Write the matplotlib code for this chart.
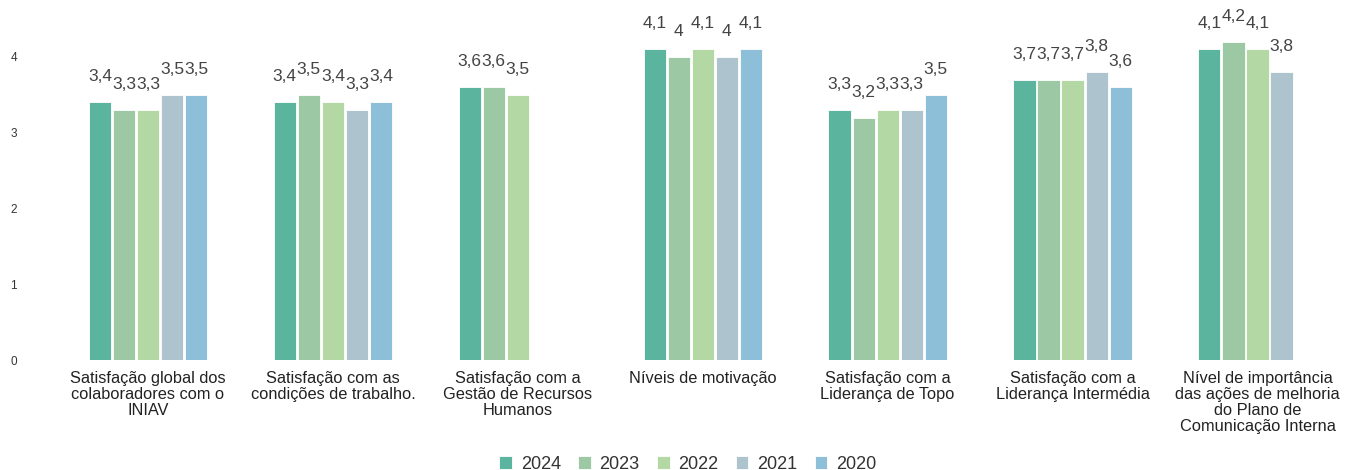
import matplotlib
matplotlib.use("Agg")
import matplotlib.pyplot as plt
import numpy as np

plt.rcParams['font.family'] = ['Liberation Sans', 'DejaVu Sans']

categories = [
    "Satisfação global dos\ncolaboradores com o\nINIAV",
    "Satisfação com as\ncondições de trabalho.",
    "Satisfação com a\nGestão de Recursos\nHumanos",
    "Níveis de motivação",
    "Satisfação com a\nLiderança de Topo",
    "Satisfação com a\nLiderança Intermédia",
    "Nível de importância\ndas ações de melhoria\ndo Plano de\nComunicação Interna",
]
years = ["2024", "2023", "2022", "2021", "2020"]
v2024 = [3.4, 3.4, 3.6, 4.1, 3.3, 3.7, 4.1]
v2023 = [3.3, 3.5, 3.6, 4.0, 3.2, 3.7, 4.2]
v2022 = [3.3, 3.4, 3.5, 4.1, 3.3, 3.7, 4.1]
v2021 = [3.5, 3.3, None, 4.0, 3.3, 3.8, 3.8]
v2020 = [3.5, 3.4, None, 4.1, 3.5, 3.6, None]
series = [v2024, v2023, v2022, v2021, v2020]
colors = ["#5ab49e", "#9cc9a3", "#b4d8a3", "#adc4cf", "#8dbfd9"]

fig = plt.figure(figsize=(13.54, 4.70), dpi=100)
ax = fig.add_axes([0.041, 0.234, 0.956, 0.7415])

x = np.arange(len(categories))
step = 0.13
width = 0.12
for k, (vals, col, yr) in enumerate(zip(series, colors, years)):
    off = (k - 2) * step
    xs = [xi + off for xi, v in zip(x, vals) if v is not None]
    hs = [v for v in vals if v is not None]
    ax.bar(xs, hs, width=width, color=col, edgecolor='white', linewidth=0.6, label=yr)
    for xi, h in zip(xs, hs):
        ax.annotate(f"{h:g}".replace('.', ','), (xi, h), xytext=(0, 13),
                    textcoords='offset points', ha='center', va='bottom',
                    fontsize=12.5, color='#444444')

ax.set_xlim(-0.5, len(categories) - 0.5)
ax.set_ylim(0, 4.6)
ax.set_yticks([0, 1, 2, 3, 4])
ax.set_xticks(x)
ax.set_xticklabels(categories, fontsize=11.8, color='#222222', linespacing=1.08)
ax.tick_params(axis='x', length=0, pad=8)
ax.tick_params(axis='y', length=0, pad=32.5, labelsize=8.5, labelcolor='#333333')
for lab in ax.get_yticklabels():
    lab.set_horizontalalignment('left')
for s in ax.spines.values():
    s.set_visible(False)

fig.legend(loc='lower center', bbox_to_anchor=(0.508, -0.04), ncol=5, frameon=False,
           fontsize=13, handlelength=0.7, handleheight=0.7, columnspacing=0.95,
           handletextpad=0.5, labelcolor='#333333')

fig.savefig("out.png", dpi=100)
